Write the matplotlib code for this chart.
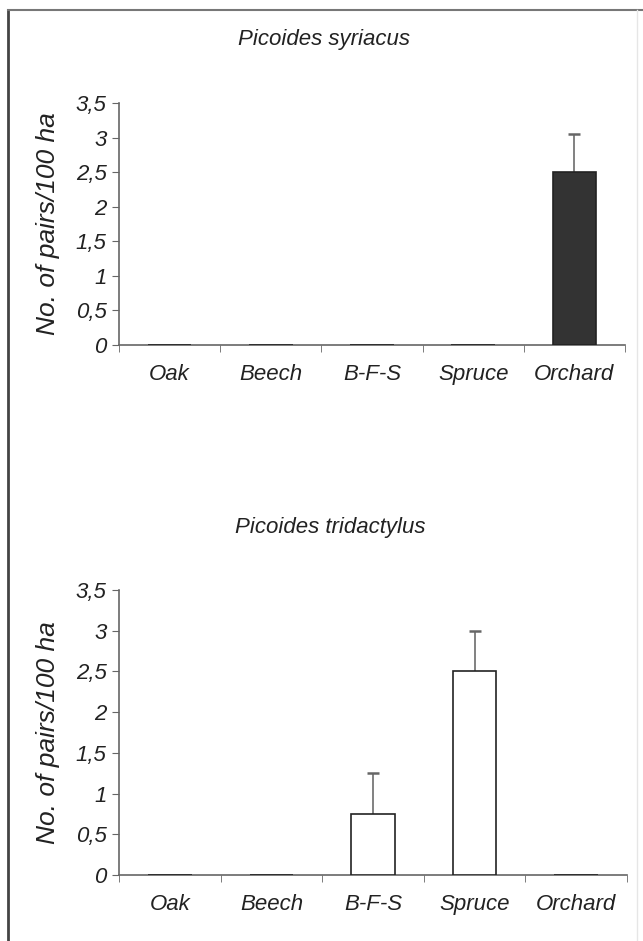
import matplotlib.pyplot as plt
from matplotlib.lines import Line2D

plt.rcParams['font.family'] = ['Liberation Sans', 'DejaVu Sans']

# data
habitats = ['Oak', 'Beech', 'B-F-S', 'Spruce', 'Orchard']
syriacus = [0, 0, 0, 0, 2.5]
syriacus_err = [0, 0, 0, 0, 0.55]
tridactylus = [0, 0, 0.75, 2.5, 0]
tridactylus_err = [0, 0, 0.5, 0.5, 0]
yticks = [0, 0.5, 1, 1.5, 2, 2.5, 3, 3.5]

fig = plt.figure(figsize=(6.43, 9.41), dpi=100)

# page frame
fig.add_artist(Line2D([8/643, 8/643], [0, 1 - 10/941], color='#444444', lw=2))
fig.add_artist(Line2D([8/643, 1], [1 - 10/941, 1 - 10/941], color='#777777', lw=1.5))
fig.add_artist(Line2D([637/643, 637/643], [0, 1 - 10/941], color='#e6e6e6', lw=1))

ax1 = fig.add_axes([119/643, 1 - 345/941, 506/643, 242/941])
ax2 = fig.add_axes([119/643, 1 - 875/941, 508/643, 285/941])


def style(ax, values, err, color, title, title_x, title_y):
    x = list(range(len(habitats)))
    ax.bar(x, values, width=0.43, color=color, edgecolor='#222222', linewidth=1.2, zorder=3)
    # one-sided error bars, cap only at top
    ex = [i for i in x if err[i] > 0]
    ey = [values[i] for i in ex]
    ee = [err[i] for i in ex]
    ax.errorbar(ex, ey, yerr=[[0] * len(ee), ee], fmt='none', ecolor='#777777',
                elinewidth=1.3, capsize=0, zorder=2)
    ax.plot(ex, [ey[i] + ee[i] for i in range(len(ex))], ls='none', marker='_',
            ms=9, mew=1.8, color='#666666', zorder=2)
    ax.set_xlim(-0.5, len(habitats) - 0.5)
    ax.set_ylim(0, 3.5)
    ax.set_yticks(yticks)
    ax.set_yticklabels([('%g' % v).replace('.', ',') for v in yticks],
                       fontsize=16, style='italic', color='#222222')
    ax.set_xticks(x)
    ax.set_xticklabels(habitats, fontsize=16, style='italic', color='#222222')
    ax.set_xticks([i - 0.5 for i in range(len(habitats) + 1)], minor=True)
    ax.tick_params(axis='x', which='major', length=0, pad=14)
    ax.tick_params(axis='x', which='minor', length=5, direction='out', color='#666666')
    ax.tick_params(axis='y', length=5, direction='out', color='#666666', pad=4)
    for s in ['top', 'right']:
        ax.spines[s].set_visible(False)
    for s in ['left', 'bottom']:
        ax.spines[s].set_color('#666666')
        ax.spines[s].set_linewidth(1.2)
    ax.set_ylabel('No. of pairs/100 ha', fontsize=19, style='italic', color='#222222')
    ax.yaxis.set_label_coords(-0.117, 0.5)
    fig.text(title_x, title_y, title, fontsize=16, style='italic', ha='center', va='center',
             color='#222222')


style(ax1, syriacus, syriacus_err, '#333333', 'Picoides syriacus', 324/643, 1 - 40/941)
style(ax2, tridactylus, tridactylus_err, 'white', 'Picoides tridactylus', 330/643, 1 - 527/941)

fig.savefig('out.png', dpi=100)
